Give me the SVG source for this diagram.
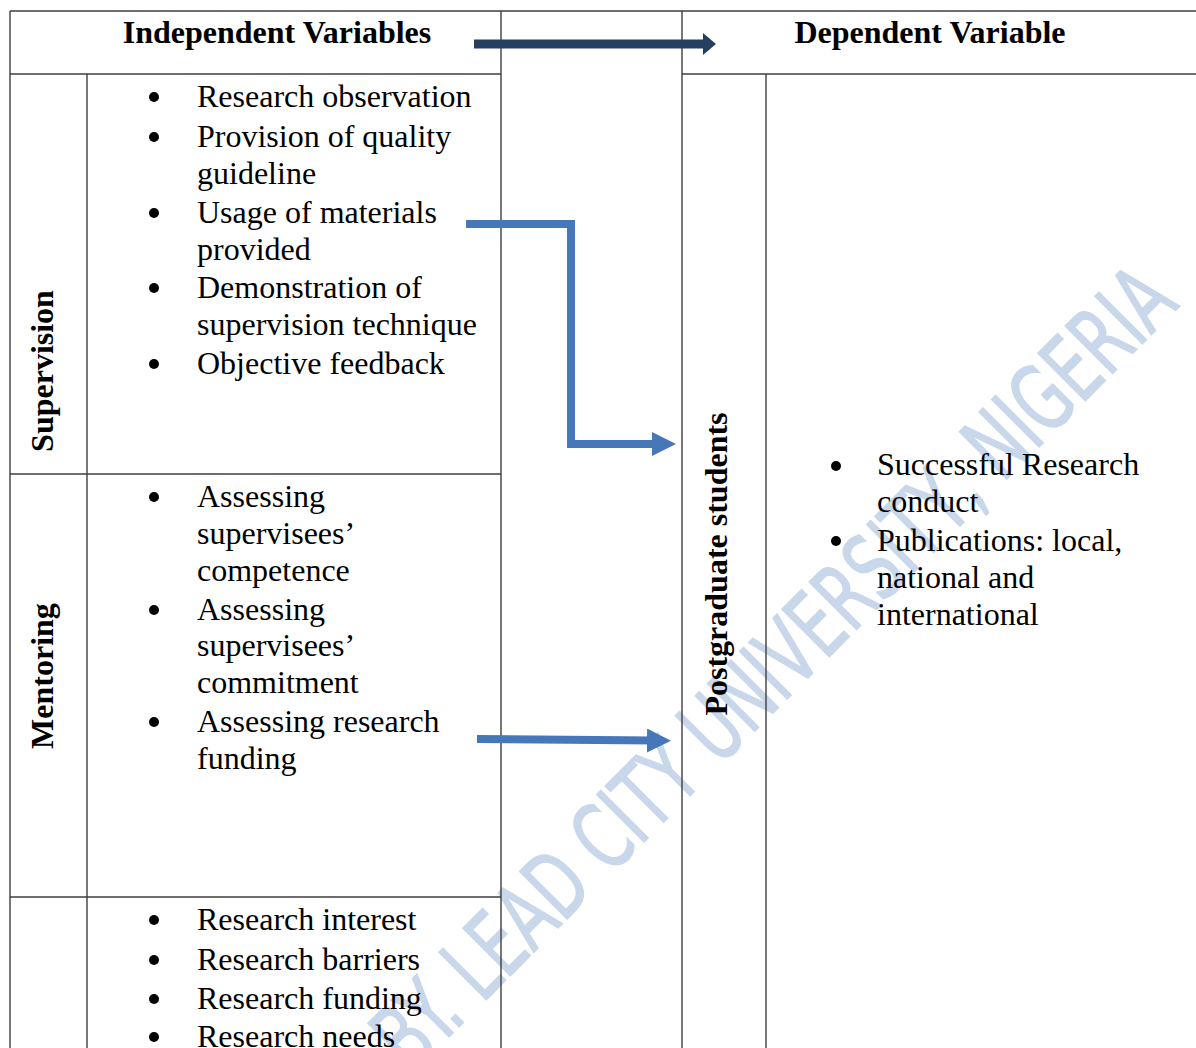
<svg xmlns="http://www.w3.org/2000/svg" width="1196" height="1048" viewBox="0 0 1196 1048">
<style>
.grid{stroke:#3f3f3f;stroke-width:1.4;fill:none}
.t{font-family:"Liberation Serif","Times New Roman",serif;font-size:32px;fill:#000}
.b{font-weight:bold}
.hd{font-weight:bold;text-anchor:middle}
.wm{font-family:"DejaVu Sans Condensed","DejaVu Sans","Liberation Sans",sans-serif;font-size:92px;fill:#c8d7ea;stroke:#c8d7ea;stroke-width:1.5}
.blt{fill:#000}
.conn{fill:none;stroke:#4677bb;stroke-width:8}
</style>
<defs>
<marker id="ahBlue" markerWidth="24" markerHeight="24" viewBox="0 0 24 24" refX="8" refY="12" orient="auto" markerUnits="userSpaceOnUse">
<path d="M0,0 L24,12 L0,24 Z" fill="#4677bb"/>
</marker>
<marker id="ahNavy" markerWidth="13" markerHeight="22" viewBox="0 0 13 22" refX="3" refY="11" orient="auto" markerUnits="userSpaceOnUse">
<path d="M0,0 L13,11 L0,22 Z" fill="#243f60"/>
</marker>
</defs>
<rect width="1196" height="1048" fill="#fff"/>

<text class="wm" transform="translate(411,1075) rotate(-45)" textLength="1088" lengthAdjust="spacingAndGlyphs">BY. LEAD CITY UNIVERSITY, NIGERIA</text>

<g id="table">
<path class="grid" d="M10,11 H1196 M10,11 V1048 M10,74 H501 M682,74 H1196 M501,11 V1048 M682,11 V1048 M87,74 V1048 M766,74 V1048 M10,474 H501 M10,897 H501"/>
</g>

<g id="header-independent">
<text class="t hd" x="277" y="43">Independent Variables</text>
</g>
<g id="header-dependent">
<text class="t hd" x="930" y="43">Dependent Variable</text>
</g>

<g id="supervision">
<text class="t b" transform="translate(53,371) rotate(-90)" text-anchor="middle">Supervision</text>
<circle class="blt" cx="154" cy="97" r="5"/>
<text class="t" x="197" y="107">Research observation</text>
<circle class="blt" cx="154" cy="137" r="5"/>
<text class="t" x="197" y="147">Provision of quality</text>
<text class="t" x="197" y="184">guideline</text>
<circle class="blt" cx="154" cy="213" r="5"/>
<text class="t" x="197" y="223">Usage of materials</text>
<text class="t" x="197" y="260">provided</text>
<circle class="blt" cx="154" cy="288" r="5"/>
<text class="t" x="197" y="298">Demonstration of</text>
<text class="t" x="197" y="335">supervision technique</text>
<circle class="blt" cx="154" cy="364" r="5"/>
<text class="t" x="197" y="374">Objective feedback</text>
</g>

<g id="mentoring">
<text class="t b" transform="translate(53,676) rotate(-90)" text-anchor="middle">Mentoring</text>
<circle class="blt" cx="154" cy="497" r="5"/>
<text class="t" x="197" y="507">Assessing</text>
<text class="t" x="197" y="544">supervisees’</text>
<text class="t" x="197" y="581">competence</text>
<circle class="blt" cx="154" cy="610" r="5"/>
<text class="t" x="197" y="620">Assessing</text>
<text class="t" x="197" y="656">supervisees’</text>
<text class="t" x="197" y="693">commitment</text>
<circle class="blt" cx="154" cy="722" r="5"/>
<text class="t" x="197" y="732">Assessing research</text>
<text class="t" x="197" y="769">funding</text>
</g>

<g id="research">
<circle class="blt" cx="154" cy="920" r="5"/>
<text class="t" x="197" y="930">Research interest</text>
<circle class="blt" cx="154" cy="960" r="5"/>
<text class="t" x="197" y="970">Research barriers</text>
<circle class="blt" cx="154" cy="999" r="5"/>
<text class="t" x="197" y="1009">Research funding</text>
<circle class="blt" cx="154" cy="1037" r="5"/>
<text class="t" x="197" y="1047">Research needs</text>
</g>

<g id="postgraduate">
<text class="t b" transform="translate(727,564) rotate(-90)" text-anchor="middle">Postgraduate students</text>
</g>

<g id="outcomes">
<circle class="blt" cx="836" cy="466" r="5"/>
<text class="t" x="877" y="475">Successful Research</text>
<text class="t" x="877" y="512">conduct</text>
<circle class="blt" cx="836" cy="541" r="5"/>
<text class="t" x="877" y="551">Publications: local,</text>
<text class="t" x="877" y="588">national and</text>
<text class="t" x="877" y="625">international</text>
</g>

<g id="connectors">
<line x1="474" y1="44" x2="706" y2="44" stroke="#243f60" stroke-width="9" marker-end="url(#ahNavy)"/>
<polyline class="conn" points="466,224 571,224 571,444 660,444" marker-end="url(#ahBlue)"/>
<line class="conn" x1="477" y1="739" x2="655" y2="740.6" marker-end="url(#ahBlue)"/>
</g>
</svg>
